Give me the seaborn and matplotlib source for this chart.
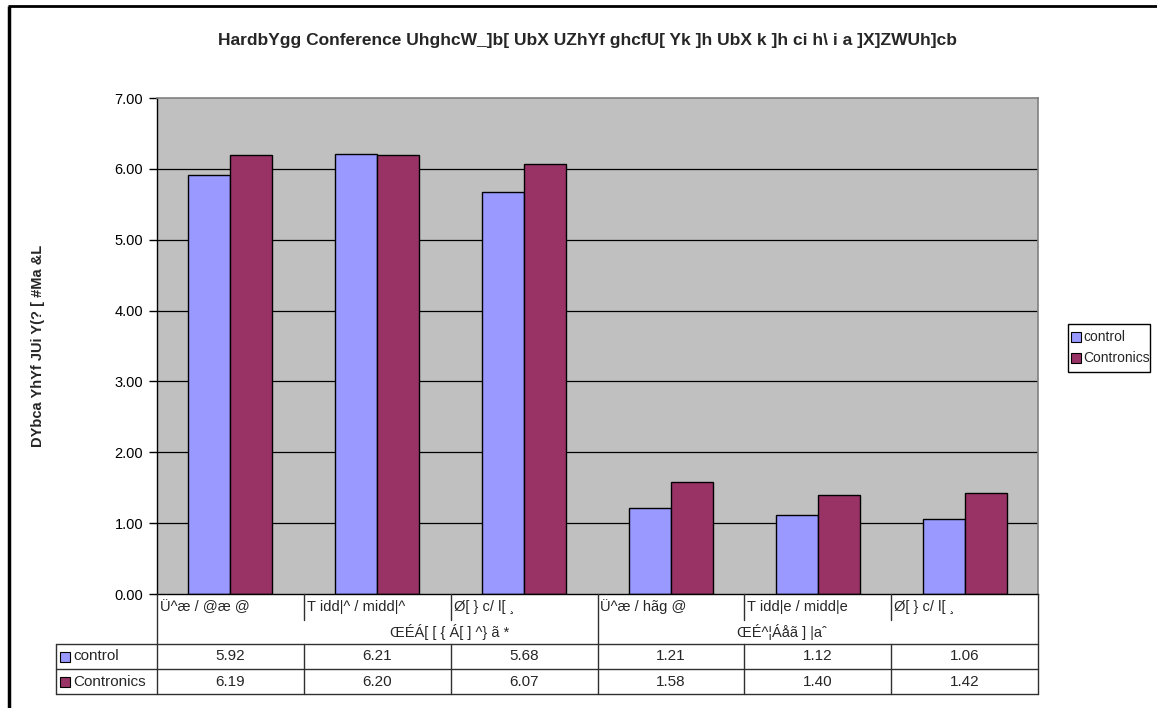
import matplotlib
matplotlib.use("Agg")
import matplotlib.pyplot as plt
import seaborn as sns
import pandas as pd

sns.set_theme(style="white")
plt.rcParams['font.family'] = ['Liberation Sans', 'DejaVu Sans']

# ---- data ----
categories = ["Ü^æ / @æ @", "T idd|^ / midd|^", "Ø[ } c/ l[ ¸",
              "Ü^æ / hãg @", "T idd|e / midd|e", "Ø[ } c/ l[ ¸"]
group_labels = ["ŒÉÁ[ [ { Á[ ] ^} ã *", "ŒÉ^¦Áåã ] |aˆ"]
series_names = ["control", "Contronics"]
control = [5.92, 6.21, 5.68, 1.21, 1.12, 1.06]
contronics = [6.19, 6.20, 6.07, 1.58, 1.40, 1.42]
yticks = [0, 1, 2, 3, 4, 5, 6, 7]
title = "HardbYgg Conference UhghcW_]b[ UbX UZhYf ghcfU[ Yk ]h UbX k ]h ci h\\ i a ]X]ZWUh]cb"
ylabel = "DYbca YhYf JUi Y(? [ #Ma &L"

colors = ["#9999FF", "#993366"]

df = pd.DataFrame({
    "pos": list(range(len(categories))) * 2,
    "value": control + contronics,
    "series": [series_names[0]] * len(control) + [series_names[1]] * len(contronics),
})

W, H = 1157, 708
fig = plt.figure(figsize=(W / 100, H / 100), dpi=100)
fig.patch.set_facecolor("white")

# plot area in pixel coordinates
L, R, T, B = 157, 1038, 98, 594
ax = fig.add_axes([L / W, 1 - B / H, (R - L) / W, (B - T) / H])
ax.set_facecolor("#C0C0C0")

sns.barplot(data=df, x="pos", y="value", hue="series", palette=colors,
            saturation=1, width=0.572, edgecolor="black", linewidth=1.0,
            ax=ax, legend=False)

ax.set_ylim(0, 7)
ax.set_xlim(-0.5, len(categories) - 0.5)
ax.set_yticks(yticks)
ax.set_yticklabels([f"{v:.2f}" for v in yticks], fontsize=10.5, color="black")
ax.set_xticks([])
ax.set_xlabel("")
ax.set_ylabel("")
for y in yticks[1:-1]:
    ax.axhline(y, color="black", lw=0.9, zorder=0.5)
ax.set_axisbelow(True)
ax.tick_params(axis="y", direction="out", length=6, width=1, color="black", pad=4, left=True)
ax.spines["left"].set_color("black")
ax.spines["left"].set_linewidth(1)
ax.spines["bottom"].set_color("black")
ax.spines["bottom"].set_linewidth(1)
for s in ("top", "right"):
    ax.spines[s].set_color("#808080")
    ax.spines[s].set_linewidth(1.2)

# overlay in pixel coordinates for title, table, legend and frame
ov = fig.add_axes([0, 0, 1, 1], zorder=5)
ov.set_xlim(0, W)
ov.set_ylim(H, 0)
ov.axis("off")
ov.patch.set_alpha(0)

# chart frame
ov.plot([9, 9], [6, H + 5], color="black", lw=2.5, solid_capstyle="butt")
ov.plot([8, W + 5], [6, 6], color="black", lw=2.0, solid_capstyle="butt")

# title and axis label
ov.text(588, 41, title, ha="center", va="center", fontsize=12.5, fontweight="bold")
ov.text(38, 346, ylabel, ha="center", va="center", rotation=90, fontsize=10.5, fontweight="bold")

# data table
n = len(categories)
cw = (R - L) / n
row_top, row_mid, row_c1, row_c2, row_bot = B, 620, 644, 669, 694
tab_left = 56
lc = "#303030"
lw = 1.0
ov.plot([L, L], [row_top, row_bot], color=lc, lw=lw)
ov.plot([R, R], [row_top, row_bot], color=lc, lw=lw)
for k in range(1, n):
    x = L + k * cw
    y_end = row_c1 if k == 3 else row_mid
    ov.plot([x, x], [row_top, y_end], color=lc, lw=lw)
    ov.plot([x, x], [row_c1, row_bot], color=lc, lw=lw)
for y in (row_c1, row_c2, row_bot):
    ov.plot([tab_left, R], [y, y], color=lc, lw=lw)
ov.plot([tab_left, tab_left], [row_c1, row_bot], color=lc, lw=lw)

for k, c in enumerate(categories):
    ov.text(L + k * cw + 3, 607, c, ha="left", va="center", fontsize=10.5)
ov.text(390, 632, group_labels[0], ha="left", va="center", fontsize=10.5)
ov.text(737, 632, group_labels[1], ha="left", va="center", fontsize=10.5)

rows = [(row_c1, row_c2, control), (row_c2, row_bot, contronics)]
for (y0, y1, vals), name, col in zip(rows, series_names, colors):
    yc = (y0 + y1) / 2
    ov.add_patch(plt.Rectangle((60, yc - 5), 10, 10, facecolor=col, edgecolor="black", lw=0.8))
    ov.text(73, yc, name, ha="left", va="center", fontsize=11)
    for k, v in enumerate(vals):
        ov.text(L + (k + 0.5) * cw, yc, f"{v:.2f}", ha="center", va="center", fontsize=11)

# legend
ov.add_patch(plt.Rectangle((1068, 324), 82, 48, facecolor="white", edgecolor="black", lw=1))
for i, (name, col) in enumerate(zip(series_names, colors)):
    yc = 337 + i * 21
    ov.add_patch(plt.Rectangle((1071, yc - 5), 10, 10, facecolor=col, edgecolor="black", lw=0.8))
    ov.text(1083, yc, name, ha="left", va="center", fontsize=10)

fig.savefig("out.png", dpi=100)
